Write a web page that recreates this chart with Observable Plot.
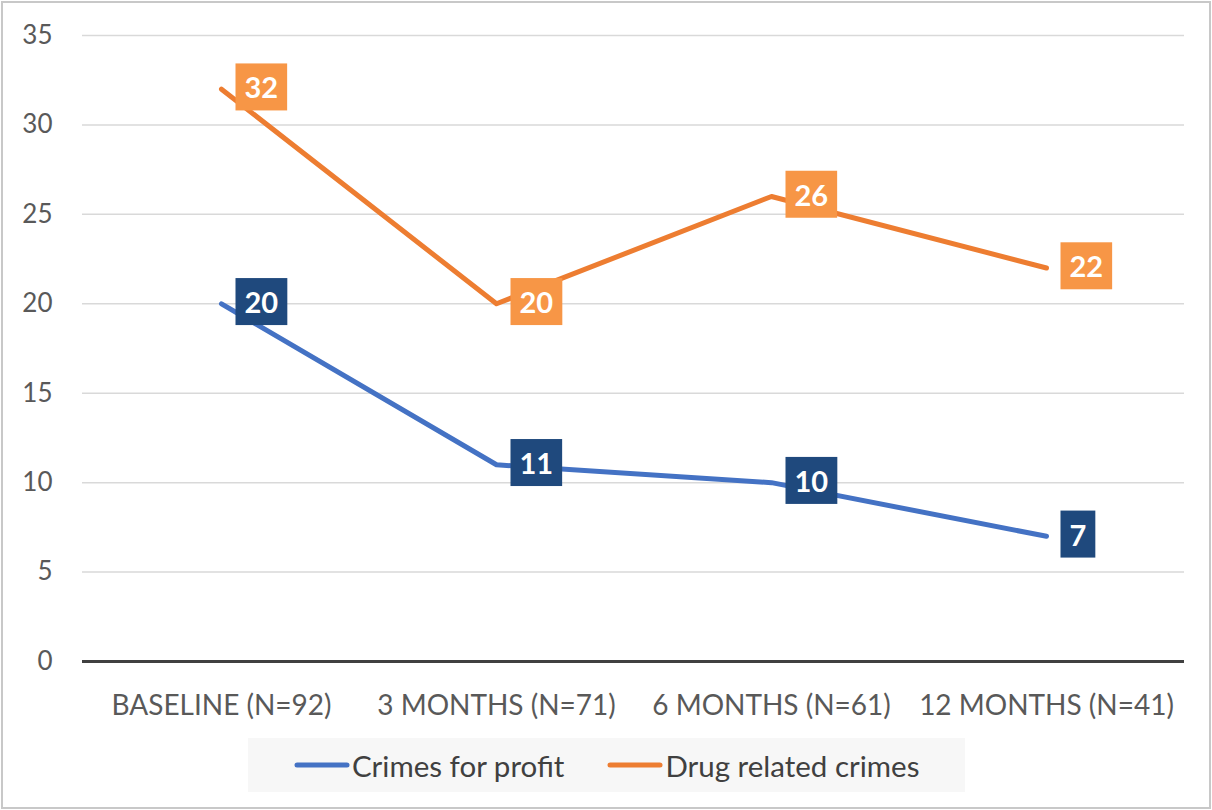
<!DOCTYPE html>
<html><head><meta charset="utf-8">
<script src="https://cdn.jsdelivr.net/npm/d3@7"></script>
<script src="https://cdn.jsdelivr.net/npm/@observablehq/plot@0.6"></script>
<style>
body{margin:0;background:#fff;font-family:Lato,"Open Sans",sans-serif;}
#frame{position:absolute;left:1px;top:1px;width:1206px;height:804px;border:2px solid #c8c8c8;}
#chart{position:absolute;left:0;top:0;}
#legend{position:absolute;left:248px;top:738px;width:717px;height:54px;background:#f7f7f7;display:flex;align-items:center;box-sizing:border-box;padding-left:46px;font-size:29.5px;color:#404040;}
.item{display:flex;align-items:center;}
.item svg{margin-right:2px;}
</style></head>
<body>
<div id="frame"></div>
<div id="chart"></div>
<div id="legend"></div>
<script>
const categories = ["BASELINE (N=92)", "3 MONTHS (N=71)", "6 MONTHS (N=61)", "12 MONTHS (N=41)"];
const seriesNames = ["Crimes for profit", "Drug related crimes"];
const crimesForProfit = [20, 11, 10, 7];
const drugRelatedCrimes = [32, 20, 26, 22];
const yTicks = [0, 5, 10, 15, 20, 25, 30, 35];
const lineColors = ["#4472C4", "#ED7D31"];
const boxColors = ["#1F497D", "#F79646"];

const rows = [];
[crimesForProfit, drugRelatedCrimes].forEach((vals, s) => {
  vals.forEach((v, i) => rows.push({series: seriesNames[s], cat: categories[i], value: v, s}));
});

const plot = Plot.plot({
  width: 1212, height: 740,
  marginLeft: 82, marginRight: 28, marginTop: 35, marginBottom: 79,
  style: {fontFamily: "Lato, 'Open Sans', sans-serif", fontSize: "26px", color: "#595959", background: "transparent"},
  x: {type: "point", domain: categories, padding: 0.5, label: null},
  y: {domain: [0, 35], label: null},
  color: {domain: seriesNames, range: lineColors},
  marks: [
    Plot.gridY(yTicks.filter(d => d > 0), {stroke: "#d9d9d9", strokeOpacity: 1, strokeWidth: 1.5}),
    Plot.ruleY([0], {stroke: "#404040", strokeWidth: 3}),
    Plot.axisY(yTicks, {tickSize: 0, tickPadding: 30, fontSize: 26, label: null}),
    Plot.axisX({tickSize: 0, tickPadding: 34, fontSize: 28, label: null}),
    Plot.line(rows, {x: "cat", y: "value", z: "series", stroke: "series", strokeWidth: 5, strokeLinecap: "round", strokeLinejoin: "round"}),
    Plot.text(rows, {x: "cat", y: "value", text: d => String(d.value), fill: "#fffffe", fontWeight: "bold", fontSize: 29, textAnchor: "start", dx: 23, lineAnchor: "middle"})
  ]
});
document.getElementById("chart").appendChild(plot);

// Label boxes behind data labels (the text mark group is the one filled #fffffe)
const labelGroup = Array.from(plot.querySelectorAll("g")).find(g => g.getAttribute("fill") === "#fffffe");
if (labelGroup) {
  d3.select(labelGroup).selectAll("text").each(function(_, i) {
    const bb = this.getBBox();
    const r = rows[i];
    const rect = d3.select(this.parentNode).insert("rect", () => this)
      .attr("x", bb.x - 9).attr("width", bb.width + 18)
      .attr("y", bb.y + bb.height / 2 - 23.5).attr("height", 47)
      .attr("fill", boxColors[r.s]);
    const t = this.getAttribute("transform");
    if (t) rect.attr("transform", t);
    const x = this.getAttribute("x"), y = this.getAttribute("y");
    if (x) rect.attr("x", +x + bb.x - 9 - (+x));
  });
}

// Legend
const legend = d3.select("#legend");
seriesNames.forEach((name, s) => {
  const it = legend.append("div").attr("class", "item").style("margin-right", s === 0 ? "43px" : "0");
  const sv = it.append("svg").attr("width", 56).attr("height", 10);
  sv.append("line").attr("x1", 3).attr("x2", 53).attr("y1", 5).attr("y2", 5)
    .attr("stroke", lineColors[s]).attr("stroke-width", 5).attr("stroke-linecap", "round");
  it.append("span").text(name);
});
</script>
</body></html>
